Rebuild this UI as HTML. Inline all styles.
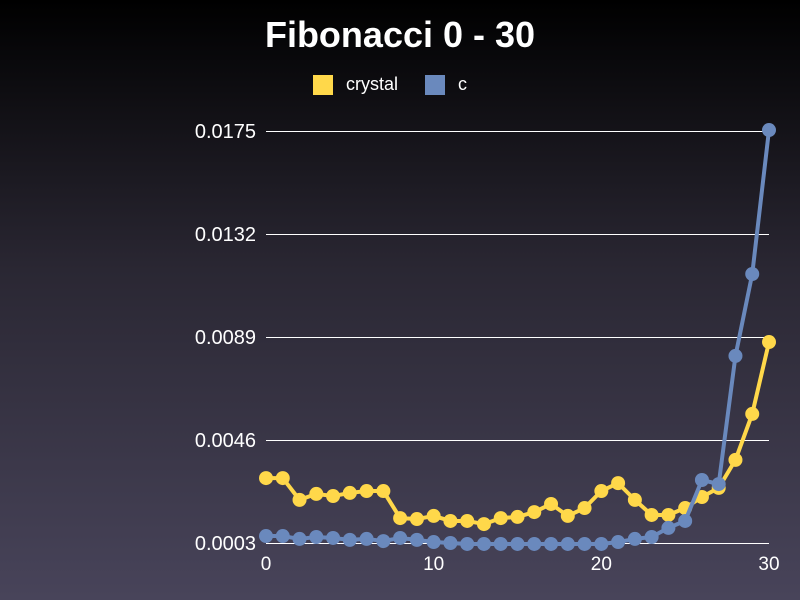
<!DOCTYPE html>
<html><head><meta charset="utf-8"><style>
html,body{margin:0;padding:0;width:800px;height:600px;overflow:hidden}
body{background:linear-gradient(#000 0%,#2a2733 45%,#48445a 100%);font-family:"Liberation Sans",sans-serif}
</style></head><body>
<svg id="chart" width="800" height="600" xmlns="http://www.w3.org/2000/svg">
<text x="400" y="47" fill="#fff" font-size="36" font-weight="bold" text-anchor="middle" font-family="Liberation Sans, sans-serif">Fibonacci 0 - 30</text>
<g>
<g><rect x="313" y="75" width="20" height="20" fill="#ffd84a"/><text x="346" y="90" fill="#fff" font-size="18" font-family="Liberation Sans, sans-serif">crystal</text></g>
<g><rect x="425" y="75" width="20" height="20" fill="#6a89bd"/><text x="458" y="90" fill="#fff" font-size="18" font-family="Liberation Sans, sans-serif">c</text></g>
</g>
<g id="grid"></g><g id="series"></g>
</svg>
<script>
const categories=[0,1,2,3,4,5,6,7,8,9,10,11,12,13,14,15,16,17,18,19,20,21,22,23,24,25,26,27,28,29,30];
const crystalValues=[0.00301,0.00301,0.00210,0.00235,0.00226,0.00239,0.00247,0.00247,0.00134,0.00130,0.00143,0.00122,0.00122,0.00109,0.00134,0.00139,0.00159,0.00193,0.00143,0.00176,0.00247,0.00280,0.00210,0.00147,0.00147,0.00176,0.00222,0.00260,0.00377,0.00569,0.00869];
const cValues=[0.00059,0.00059,0.00047,0.00055,0.00051,0.00043,0.00047,0.00038,0.00051,0.00043,0.00034,0.00030,0.00026,0.00026,0.00026,0.00026,0.00026,0.00026,0.00026,0.00026,0.00026,0.00034,0.00047,0.00055,0.00093,0.00122,0.00293,0.00276,0.00811,0.01153,0.01754];
const yTicks=[0.0003,0.0046,0.0089,0.0132,0.0175];
const xTicks=[0,10,20,30];
const NS="http://www.w3.org/2000/svg";
const X=v=>266+(v-0)/30*503;
const Y=v=>543-(v-0.0003)/(0.0175-0.0003)*412;
const grid=document.getElementById('grid'),series=document.getElementById('series');
function mk(t,a,p){const e=document.createElementNS(NS,t);for(const k in a)e.setAttribute(k,a[k]);p.appendChild(e);return e;}
yTicks.forEach(t=>{
 const l=mk('line',{x1:266,x2:769,y1:Math.round(Y(t))+0.5,y2:Math.round(Y(t))+0.5,stroke:'#fff','stroke-width':1},grid);
 
 
 const tx=mk('text',{x:256,y:Y(t)+7,fill:'#fff','font-size':20,'text-anchor':'end','font-family':'Liberation Sans, sans-serif'},grid);
 tx.textContent=t.toFixed(4);
 
 
});
xTicks.forEach(t=>{
 const tx=mk('text',{x:X(t),y:570,fill:'#fff','font-size':19,'text-anchor':'middle','font-family':'Liberation Sans, sans-serif'},grid);
 tx.textContent=t;
 
 
});
function draw(vals,color,name){
 const g=mk('g',{},series);
 
 
 const pl=mk('polyline',{points:vals.map((v,i)=>X(categories[i])+','+Y(v)).join(' '),fill:'none',stroke:color,'stroke-width':4,'stroke-linejoin':'round'},g);
 
 
 vals.forEach((v,i)=>{
  const c=mk('circle',{cx:X(categories[i]),cy:Y(v),r:7,fill:color},g);
  
  
 });
}
draw(crystalValues,'#ffd84a','crystal');
draw(cValues,'#6a89bd','c');
</script>
</body></html>
